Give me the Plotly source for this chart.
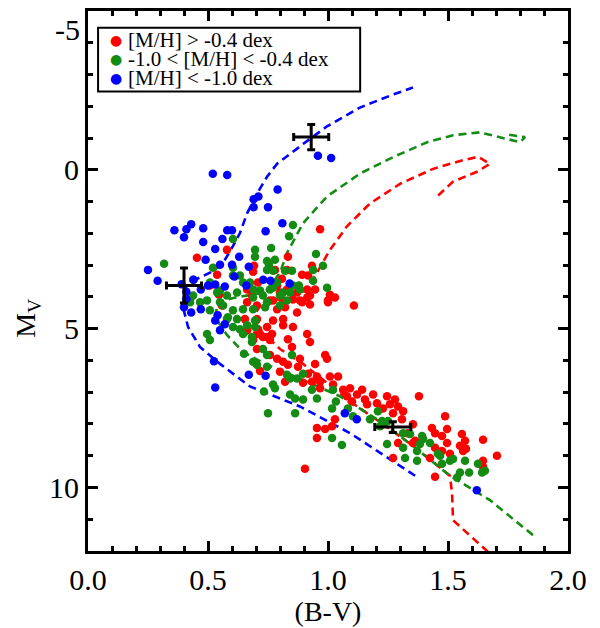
import plotly.graph_objects as go

# metal-rich stars  [M/H] > -0.4
red_bv = [0.967, 0.833, 0.579, 0.454, 0.933, 0.829, 0.692, 0.892, 0.917, 0.808, 0.788, 0.829, 0.871, 0.883,
          0.925, 0.913, 1.008, 1.029, 1.000, 0.771, 0.788, 0.821, 0.704, 0.654, 0.771, 0.813, 0.854, 0.663,
          0.704, 0.729, 0.767, 0.758, 0.833, 0.913, 0.508, 0.538, 0.558, 0.663, 0.688, 0.779, 0.708, 0.683,
          0.663, 0.704, 0.758, 0.800, 0.813, 0.854, 0.892, 0.913, 0.946, 0.925, 0.871, 0.813, 0.546, 0.746,
          0.708, 0.650, 0.688, 0.746, 0.850, 0.704, 0.758, 0.788, 0.813, 0.833, 0.800, 0.717, 0.821, 1.000,
          1.108, 0.925, 0.883, 0.875, 0.946, 0.988, 0.996, 0.917, 0.954, 0.896, 0.933, 0.967, 1.008, 1.042,
          0.967, 1.021, 1.063, 1.092, 1.121, 1.142, 1.154, 1.079, 1.100, 1.188, 1.163, 1.204, 1.246, 1.279,
          1.292, 1.229, 1.313, 1.271, 1.308, 1.354, 1.379, 1.333, 1.292, 1.363, 1.271, 0.954, 0.988, 1.017,
          0.954, 1.029, 0.904, 1.433, 1.446, 1.496, 1.475, 1.488, 1.558, 1.571, 1.550, 1.446, 1.425, 1.508,
          1.563, 1.646, 1.704, 1.646, 1.258, 1.496, 1.475, 1.575, 1.646, 1.446, 1.354]
red_mv = [1.87, 2.74, 2.52, 2.77, 3.02, 3.15, 3.02, 3.30, 3.33, 3.43, 3.64, 3.77, 3.86, 4.11,
          3.96, 3.77, 3.93, 4.02, 4.11, 4.11, 4.39, 4.33, 4.70, 4.70, 4.74, 4.89, 4.95, 5.05,
          5.17, 5.26, 5.17, 5.36, 5.33, 5.17, 3.64, 3.30, 4.27, 3.77, 3.21, 3.15, 3.55, 3.96,
          4.17, 4.27, 4.11, 3.86, 4.11, 4.08, 4.17, 4.02, 3.77, 4.24, 4.49, 4.70, 3.93, 4.95,
          5.02, 5.11, 5.36, 5.26, 5.58, 5.64, 5.83, 5.95, 6.04, 6.14, 6.36, 6.33, 6.67, 4.17,
          4.27, 5.42, 5.95, 6.20, 6.11, 5.83, 5.95, 6.42, 6.51, 6.70, 6.67, 6.67, 6.51, 6.51,
          6.88, 6.76, 6.92, 6.88, 7.07, 6.92, 7.23, 7.13, 7.29, 7.07, 7.38, 7.35, 7.13, 7.23,
          7.45, 7.51, 7.60, 7.66, 7.85, 8.01, 7.13, 8.29, 8.60, 8.53, 9.07, 8.13, 8.16, 8.07,
          8.44, 7.85, 9.41, 8.13, 8.29, 8.16, 8.38, 7.76, 8.32, 8.53, 8.69, 8.75, 9.07, 8.94,
          8.85, 8.50, 9.00, 9.16, 7.38, 8.60, 8.85, 8.78, 9.35, 9.66, 8.60]

# intermediate  -1.0 < [M/H] < -0.4
green_bv = [0.854, 0.838, 0.763, 0.779, 0.746, 0.950, 0.604, 0.696, 0.696, 0.754, 0.979, 0.317, 0.521, 0.746,
            0.771, 0.850, 0.604, 0.438, 0.425, 0.508, 0.550, 0.604, 0.633, 0.675, 0.717, 0.771, 0.813, 0.854,
            0.883, 0.996, 0.938, 0.467, 0.508, 0.550, 0.604, 0.646, 0.688, 0.738, 0.579, 0.604, 0.496, 0.508,
            0.646, 0.683, 0.729, 0.821, 0.842, 0.800, 0.758, 0.729, 0.688, 0.646, 0.621, 0.579, 0.538, 0.496,
            0.563, 0.688, 0.746, 0.800, 0.621, 0.663, 0.583, 0.438, 0.425, 0.696, 0.633, 0.788, 0.829, 0.938,
            0.650, 0.688, 0.746, 0.771, 0.733, 0.779, 0.850, 0.842, 0.842, 0.863, 0.750, 0.863, 0.683, 0.829,
            0.696, 0.746, 0.704, 0.896, 0.871, 0.896, 0.933, 0.954, 1.021, 1.017, 1.033, 1.083, 1.104, 1.175,
            1.208, 1.225, 1.017, 1.058, 1.246, 1.313, 1.321, 1.371, 1.383, 1.396, 1.425, 1.313, 1.250, 1.371,
            1.467, 1.475, 1.521, 1.571, 1.625, 1.392, 1.458, 1.508, 1.538, 1.550, 1.588, 1.642, 1.654, 1.217,
            1.342, 0.879]
green_mv = [1.74, 2.09, 2.46, 2.83, 2.87, 2.65, 2.18, 2.52, 2.74, 2.99, 3.02, 2.96, 3.08, 3.15,
            3.18, 3.18, 3.08, 3.46, 4.08, 3.55, 3.80, 3.33, 3.33, 3.55, 3.80, 3.71, 3.86, 3.64,
            3.77, 3.71, 3.49, 4.17, 4.42, 4.17, 4.42, 4.39, 4.02, 4.33, 4.70, 4.95, 5.17, 5.36,
            5.17, 5.42, 5.64, 3.18, 3.86, 3.96, 3.77, 3.96, 3.77, 3.55, 3.86, 3.96, 3.86, 4.11,
            4.27, 4.39, 4.17, 4.27, 4.70, 4.89, 4.64, 3.96, 4.17, 4.74, 5.02, 3.55, 4.11, 3.15,
            5.79, 6.04, 6.20, 6.76, 6.98, 6.88, 5.83, 6.57, 7.07, 7.20, 7.66, 7.66, 5.26, 6.45,
            4.95, 5.83, 6.14, 7.23, 6.57, 6.42, 6.92, 7.20, 6.92, 7.51, 7.29, 7.51, 7.76, 7.85,
            7.60, 7.91, 8.44, 8.66, 8.63, 8.75, 9.07, 8.85, 8.63, 8.47, 8.60, 8.29, 7.91, 9.16,
            9.00, 9.25, 9.10, 9.16, 9.25, 8.38, 8.94, 9.16, 9.69, 9.53, 9.53, 9.53, 9.47, 8.07,
            8.32, 3.64]

# metal-poor  [M/H] < -1.0
blue_bv = [0.958, 1.013, 0.52, 0.58, 0.79, 0.69, 0.71, 0.69, 0.75, 0.36, 0.41, 0.43, 0.40, 0.48,
           0.58, 0.60, 0.74, 0.81, 0.48, 0.56, 0.53, 0.49, 0.63, 0.55, 0.60, 0.67, 0.25, 0.29,
           0.47, 0.39, 0.61, 0.53, 0.57, 0.66, 0.73, 0.76, 0.84, 0.40, 0.43, 0.54, 0.53, 0.57,
           0.55, 0.47, 0.41, 0.41, 0.50, 0.44, 0.525, 0.67, 0.74, 0.53, 1.07, 1.12, 1.62]
blue_mv = [-0.44, -0.37, 0.12, 0.16, 0.62, 0.93, 0.84, 1.18, 1.18, 1.90, 1.87, 1.71, 2.12, 1.84,
           1.90, 1.90, 1.93, 1.68, 2.27, 2.18, 2.49, 2.83, 2.74, 2.99, 2.99, 3.05, 3.15, 3.49,
           3.77, 3.60, 3.36, 3.61, 3.67, 3.64, 3.46, 3.49, 3.58, 4.33, 4.49, 4.58, 4.74, 4.86,
           5.05, 4.39, 3.84, 4.07, 3.64, 3.46, 6.03, 6.45, 6.48, 6.85, 7.66, 7.85, 10.09]

# isochrones
iso_red_bv = [1.667, 1.592, 1.521, 1.517, 1.508, 1.383, 1.258, 1.092, 0.896, 0.800, 0.725, 0.696, 0.725,
              0.842, 0.904, 0.954, 1.008, 1.079, 1.175, 1.300, 1.438, 1.550, 1.625, 1.675, 1.621, 1.521, 1.446]
iso_red_mv = [12.03, 11.50, 11.03, 10.19, 9.63, 8.85, 8.16, 7.29, 6.11, 5.64, 5.11, 4.55, 4.17,
              4.02, 3.80, 3.24, 2.52, 1.78, 1.06, 0.44, -0.03, -0.28, -0.41, -0.19, 0.06, 0.37, 0.90]

iso_green_bv = [1.854, 1.675, 1.508, 1.363, 1.217, 1.050, 0.883, 0.738, 0.646, 0.579, 0.529, 0.542, 0.613,
                0.738, 0.800, 0.829, 0.896, 0.996, 1.133, 1.271, 1.413, 1.521, 1.633, 1.717, 1.800, 1.821, 1.738]
iso_green_mv = [11.50, 10.40, 9.63, 8.75, 7.91, 7.13, 6.57, 6.11, 5.73, 5.20, 4.64, 4.17, 4.02,
                3.86, 3.24, 2.62, 1.68, 0.84, 0.12, -0.40, -0.87, -1.09, -1.18, -1.03, -0.87, -1.03, -1.12]

iso_blue_bv = [1.363, 1.313, 1.092, 0.883, 0.675, 0.550, 0.467, 0.417, 0.396, 0.404, 0.446, 0.508, 0.563,
               0.604, 0.633, 0.663, 0.704, 0.746, 0.788, 0.896, 0.996, 1.133, 1.271, 1.354]
iso_blue_mv = [9.63, 9.38, 8.29, 7.45, 6.82, 6.11, 5.58, 4.95, 4.33, 3.71, 3.46, 3.24, 2.93,
               2.40, 1.99, 1.37, 0.75, 0.22, -0.19, -0.81, -1.37, -1.96, -2.37, -2.59]

# typical error bars
err_bv = [0.93, 0.40, 1.27]
err_mv = [-1.03, 3.64, 8.10]
err_dbv = [0.073, 0.073, 0.075]
err_dmv = [0.40, 0.55, 0.17]

legend_labels = ["[M/H] &gt; -0.4 dex", "-1.0 &lt; [M/H] &lt; -0.4 dex", "[M/H] &lt; -1.0 dex"]

RED = "#ff0000"
GREEN = "#148c14"
BLUE = "#0000ff"
FONT = "Liberation Serif"

fig = go.Figure()

for bv, mv, col in [(iso_red_bv, iso_red_mv, RED),
                    (iso_green_bv, iso_green_mv, GREEN),
                    (iso_blue_bv, iso_blue_mv, BLUE)]:
    fig.add_trace(go.Scatter(x=bv, y=mv, mode="lines", showlegend=False,
                             line=dict(color=col, width=2.6, dash="8px,5px")))

groups = [(red_bv, red_mv, RED), (green_bv, green_mv, GREEN), (blue_bv, blue_mv, BLUE)]
for (bv, mv, col), lab in zip(groups, legend_labels):
    fig.add_trace(go.Scatter(x=bv, y=mv, mode="markers", name=lab, showlegend=False,
                             marker=dict(color=col, size=8.5)))

fig.add_trace(go.Scatter(x=err_bv, y=err_mv, mode="markers", showlegend=False,
                         marker=dict(color="black", size=1),
                         error_x=dict(type="data", array=err_dbv, color="black", thickness=3, width=4),
                         error_y=dict(type="data", array=err_dmv, color="black", thickness=3, width=4)))

# legend box drawn by hand (tighter line spacing than plotly's legend)
fig.add_shape(type="rect", xref="paper", yref="paper", x0=0.021, x1=0.567, y0=0.851, y1=0.969,
              line=dict(color="black", width=2), fillcolor="white", layer="above")
row_y = [0.946, 0.911, 0.876]
for lab, (_, _, col), ry in zip(legend_labels, groups, row_y):
    fig.add_annotation(xref="paper", yref="paper", x=0.058, y=ry, text="●", showarrow=False,
                       font=dict(family="DejaVu Sans", size=14, color=col), xanchor="center", yanchor="middle")
    fig.add_annotation(xref="paper", yref="paper", x=0.080, y=ry, text=lab, showarrow=False,
                       font=dict(family=FONT, size=21, color="black"), xanchor="left", yanchor="middle")

# top tick label sits just inside the frame
fig.add_annotation(xref="paper", yref="y", x=0, y=-5, text="-5", showarrow=False, xanchor="right",
                   yanchor="top", xshift=-6, yshift=0, font=dict(family=FONT, size=30, color="black"))

# y title placed as in the original (a little below centre)
fig.add_annotation(xref="paper", yref="paper", x=0, y=0.43, text="M<sub>V</sub>", showarrow=False,
                   textangle=-90, xanchor="center", yanchor="middle", xshift=-60,
                   font=dict(family=FONT, size=28, color="black"))

axis_common = dict(showline=True, linecolor="black", linewidth=3, mirror="allticks",
                   ticks="inside", ticklen=10, tickwidth=2.5, tickcolor="black",
                   showgrid=False, zeroline=False,
                   tickfont=dict(family=FONT, size=30, color="black"))

fig.update_xaxes(range=[0, 2.0], tickvals=[0, 0.5, 1.0, 1.5, 2.0], tickformat=".1f",
                 minor=dict(dtick=0.1, ticks="inside", ticklen=5, tickwidth=2.5, tickcolor="black"),
                 title=dict(text="(B-V)", font=dict(family=FONT, size=28, color="black"), standoff=2),
                 **axis_common)
fig.update_yaxes(range=[12, -5], tickvals=[0, 5, 10],
                 minor=dict(dtick=1, ticks="inside", ticklen=5, tickwidth=2.5, tickcolor="black"),
                 **axis_common)

fig.update_layout(width=592, height=620, margin=dict(l=80, r=32, t=0, b=77),
                  paper_bgcolor="white", plot_bgcolor="white",
                  font=dict(family=FONT, color="black"), showlegend=False)

fig.write_html("out.html")
